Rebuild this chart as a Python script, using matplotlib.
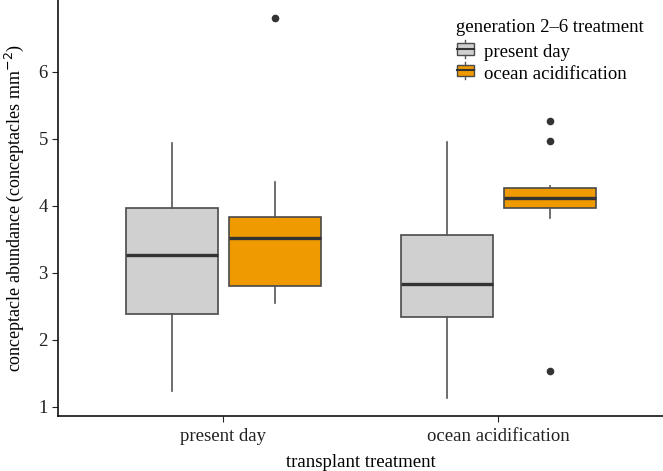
"""Conceptacle abundance por tratamento de transplante (boxplot estilo ggplot)."""

import matplotlib.pyplot as plt
from matplotlib.legend_handler import HandlerBase
from matplotlib.lines import Line2D
from matplotlib.patches import Rectangle

plt.rcParams["font.family"] = ["Liberation Serif", "DejaVu Serif"]

categorias = ["present day", "ocean acidification"]
grupos = ["present day", "ocean acidification"]
cores = ["#D0D0D0", "#EE9A00"]

# estatísticas: [present day, ocean acidification] por grupo
whisker_baixo = {"present day": [1.23, 1.14], "ocean acidification": [2.55, 3.82]}
q1 = {"present day": [2.39, 2.34], "ocean acidification": [2.81, 3.96]}
mediana = {"present day": [3.27, 2.83], "ocean acidification": [3.52, 4.11]}
q3 = {"present day": [3.96, 3.57], "ocean acidification": [3.83, 4.27]}
whisker_alto = {"present day": [4.94, 4.95], "ocean acidification": [4.35, 4.30]}
outliers = {"present day": [[], []], "ocean acidification": [[6.80], [5.27, 4.96, 1.54]]}

fig, ax = plt.subplots(figsize=(6.63, 4.71), dpi=100)
fig.subplots_adjust(left=0.088, right=1.0, bottom=0.117, top=1.0)

deslocamento = [-0.1875, 0.1875]
for g, grupo in enumerate(grupos):
    stats = []
    for i in range(len(categorias)):
        stats.append({
            "whislo": whisker_baixo[grupo][i], "q1": q1[grupo][i],
            "med": mediana[grupo][i], "q3": q3[grupo][i],
            "whishi": whisker_alto[grupo][i], "fliers": outliers[grupo][i],
        })
    posicoes = [i + 1 + deslocamento[g] for i in range(len(categorias))]
    ax.bxp(stats, positions=posicoes, widths=0.335, patch_artist=True,
           showcaps=False, manage_ticks=False,
           boxprops=dict(facecolor=cores[g], edgecolor="#4a4a4a", linewidth=1.2),
           medianprops=dict(color="#333333", linewidth=2.4, solid_capstyle="butt"),
           whiskerprops=dict(color="#555555", linewidth=1.2),
           flierprops=dict(marker="o", markersize=4.5, markerfacecolor="#333333",
                           markeredgecolor="#333333"))

ax.set_xlim(0.4, 2.6)
ax.set_ylim(0.866, 7.07)
ax.set_xticks([1, 2])
ax.set_xticklabels(categorias)
ax.set_yticks([1, 2, 3, 4, 5, 6])
ax.tick_params(labelsize=13.5, colors="#222222", length=4, width=0.8)
ax.tick_params(axis="x", pad=5)
for lado in ["top", "right"]:
    ax.spines[lado].set_visible(False)
for lado in ["left", "bottom"]:
    ax.spines[lado].set_linewidth(1.2)
    ax.spines[lado].set_color("#111111")

ax.set_xlabel("transplant treatment", fontsize=13.5, labelpad=6)
ax.set_ylabel("conceptacle abundance (conceptacles mm$^{-2}$)", fontsize=13, labelpad=9)


class HandlerCaixa(HandlerBase):
    def create_artists(self, legend, orig_handle, xdescent, ydescent,
                       width, height, fontsize, trans):
        cor = orig_handle.get_facecolor()
        w, h = width, height
        caixa = Rectangle((0, h * 0.16), w, h * 0.68, facecolor=cor,
                          edgecolor="#4a4a4a", linewidth=1.0, transform=trans)
        med = Line2D([0, w], [h * 0.5] * 2, color="#333333",
                     linewidth=1.5, transform=trans)
        bigode1 = Line2D([w / 2, w / 2], [-h * 0.02, h * 0.16],
                         color="#555555", linewidth=1.0, transform=trans)
        bigode2 = Line2D([w / 2, w / 2], [h * 0.84, h * 1.02],
                         color="#555555", linewidth=1.0, transform=trans)
        return [caixa, med, bigode1, bigode2]


ax.text(0.658, 0.935, "generation 2\u20136 treatment", transform=ax.transAxes,
        fontsize=13.5, ha="left", va="center")
alcas = [Rectangle((0, 0), 1, 1, facecolor=c) for c in cores]
leg = ax.legend(alcas, grupos, handler_map={Rectangle: HandlerCaixa()},
                loc="upper left", bbox_to_anchor=(0.659, 0.898),
                frameon=False, fontsize=13.5, borderpad=0,
                handlelength=0.9, handleheight=1.0, handletextpad=0.53,
                labelspacing=0.15, borderaxespad=0)

fig.savefig("out.png", dpi=100)
plt.close(fig)
